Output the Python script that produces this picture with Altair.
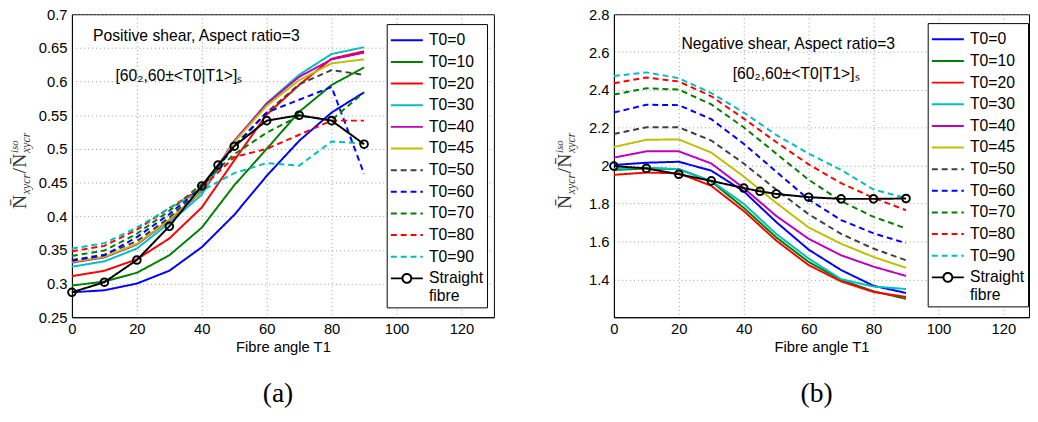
import altair as alt
import pandas as pd

# ---------------- data ----------------
t1 = [0, 10, 20, 30, 40, 50, 60, 70, 80, 90]
t1_straight = [0, 10, 20, 30, 40, 45, 50, 60, 70, 80, 90]

series_names = ["T0=0", "T0=10", "T0=20", "T0=30", "T0=40", "T0=45",
                "T0=50", "T0=60", "T0=70", "T0=80", "T0=90", "Straight fibre"]

# (a) Positive shear
pos_T0_0 = [0.287, 0.290, 0.300, 0.319, 0.354, 0.402, 0.460, 0.512, 0.554, 0.584]
pos_T0_10 = [0.297, 0.303, 0.316, 0.342, 0.383, 0.446, 0.500, 0.555, 0.595, 0.621]
pos_T0_20 = [0.311, 0.319, 0.336, 0.367, 0.413, 0.483, 0.551, 0.595, 0.634, 0.645]
pos_T0_30 = [0.325, 0.333, 0.352, 0.390, 0.432, 0.510, 0.568, 0.610, 0.641, 0.651]
pos_T0_40 = [0.331, 0.339, 0.358, 0.394, 0.437, 0.512, 0.567, 0.607, 0.633, 0.643]
pos_T0_45 = [0.332, 0.340, 0.359, 0.395, 0.438, 0.510, 0.564, 0.602, 0.627, 0.633]
pos_T0_50 = [0.335, 0.343, 0.363, 0.398, 0.442, 0.505, 0.554, 0.596, 0.617, 0.610]
pos_T0_60 = [0.334, 0.342, 0.369, 0.403, 0.444, 0.503, 0.554, 0.573, 0.592, 0.463]
pos_T0_70 = [0.341, 0.349, 0.374, 0.408, 0.448, 0.492, 0.524, 0.549, 0.543, 0.584]
pos_T0_80 = [0.348, 0.356, 0.380, 0.412, 0.442, 0.488, 0.500, 0.521, 0.542, 0.542]
pos_T0_90 = [0.352, 0.360, 0.383, 0.412, 0.438, 0.464, 0.479, 0.475, 0.511, 0.508]
pos_straight = [0.287, 0.302, 0.335, 0.385, 0.445, 0.476, 0.504, 0.542, 0.550, 0.542, 0.507]

# (b) Negative shear
neg_T0_0 = [2.004, 2.016, 2.021, 1.974, 1.865, 1.703, 1.557, 1.449, 1.366, 1.328]
neg_T0_10 = [1.977, 1.986, 1.982, 1.917, 1.778, 1.622, 1.492, 1.397, 1.337, 1.297]
neg_T0_20 = [1.952, 1.964, 1.960, 1.894, 1.761, 1.605, 1.475, 1.389, 1.333, 1.307]
neg_T0_30 = [1.983, 1.990, 1.982, 1.920, 1.799, 1.640, 1.510, 1.401, 1.362, 1.349]
neg_T0_40 = [2.043, 2.076, 2.076, 2.012, 1.882, 1.735, 1.614, 1.527, 1.467, 1.418]
neg_T0_45 = [2.099, 2.137, 2.139, 2.069, 1.943, 1.804, 1.674, 1.588, 1.518, 1.461]
neg_T0_50 = [2.168, 2.203, 2.203, 2.133, 2.012, 1.874, 1.744, 1.640, 1.562, 1.501]
neg_T0_60 = [2.281, 2.322, 2.320, 2.246, 2.116, 1.969, 1.822, 1.713, 1.643, 1.591]
neg_T0_70 = [2.376, 2.409, 2.402, 2.324, 2.203, 2.064, 1.926, 1.813, 1.730, 1.669]
neg_T0_80 = [2.436, 2.466, 2.445, 2.367, 2.249, 2.125, 2.007, 1.908, 1.830, 1.765]
neg_T0_90 = [2.474, 2.493, 2.462, 2.384, 2.281, 2.163, 2.064, 1.978, 1.874, 1.830]
neg_straight = [1.998, 1.986, 1.955, 1.920, 1.882, 1.865, 1.851, 1.834, 1.825, 1.825, 1.827]

x_ticks = [0, 20, 40, 60, 80, 100, 120]
pos_y_ticks = [0.25, 0.3, 0.35, 0.4, 0.45, 0.5, 0.55, 0.6, 0.65, 0.7]
neg_y_ticks = [1.4, 1.6, 1.8, 2.0, 2.2, 2.4, 2.6, 2.8]

pos_title = "Positive shear, Aspect ratio=3"
neg_title = "Negative shear, Aspect ratio=3"
layup_text = "[60\u2082,60\u00b1<T0|T1>]\u209b"
x_title = "Fibre angle T1"

# ---------------- styles ----------------
colors = ["#0000FF", "#008000", "#FF0000", "#00BFBF", "#BF00BF", "#BFBF00",
          "#404040", "#0000FF", "#008000", "#FF0000", "#00BFBF", "#000000"]
dashes = [[1, 0]] * 6 + [[6, 4]] * 5 + [[1, 0]]
LINE_SYM = "M-1.3,0H1.3"
CIRC_SYM = ("M-1.3,0H-0.36M0.36,0H1.3"
            "M0.36,0A0.36,0.36,0,1,1,-0.36,0A0.36,0.36,0,1,1,0.36,0")
shapes = [LINE_SYM] * 11 + [CIRC_SYM]
SANS = "Liberation Sans"
SERIF = "Liberation Serif"


def long_df(curves, straight):
    rows = []
    for name, vals in zip(series_names[:-1], curves):
        for x, v in zip(t1, vals):
            rows.append({"T1": x, "N": v, "series": name})
    for x, v in zip(t1_straight, straight):
        rows.append({"T1": x, "N": v, "series": "Straight fibre"})
    return pd.DataFrame(rows)


one = pd.DataFrame({"k": [0]})


def panel(df, xmax, width, ydom, yvals, title_txt, title_xy, layup_xy,
          label, legend_xy, tx):
    xenc = alt.X("T1:Q", scale=alt.Scale(domain=[0, xmax], nice=False, zero=False),
                 axis=alt.Axis(values=x_ticks, title=x_title, tickCount=20))
    yenc = alt.Y("N:Q", scale=alt.Scale(domain=ydom, nice=False, zero=False),
                 axis=alt.Axis(values=yvals, title="", format="~g", tickCount=20))
    leg = alt.Legend(title=None, orient="none", legendX=legend_xy[0], legendY=legend_xy[1],
                     symbolType=LINE_SYM, symbolStrokeWidth=2, symbolSize=625,
                     symbolOffset=4, labelOffset=9,
                     labelFont=SANS, labelFontSize=16, labelColor="black",
                     fillColor="white", strokeColor="black", padding=3, rowPadding=-1,
                     labelExpr="datum.label == 'Straight fibre' ? ['Straight', 'fibre'] : datum.label")
    color = alt.Color("series:N", scale=alt.Scale(domain=series_names, range=colors), legend=leg)
    dash = alt.StrokeDash("series:N", scale=alt.Scale(domain=series_names, range=dashes), legend=leg)
    lines = alt.Chart(df).mark_line(strokeWidth=2).encode(
        x=xenc, y=yenc, color=color, strokeDash=dash,
    )
    legend_shape = alt.Chart(df).transform_filter("datum.T1 < 0").mark_point(
        filled=False, strokeWidth=2, opacity=1
    ).encode(
        x=xenc, y=yenc, color=color, strokeDash=dash,
        shape=alt.Shape("series:N", scale=alt.Scale(domain=series_names, range=shapes), legend=leg),
    )
    pts = alt.Chart(df).transform_filter(alt.datum.series == "Straight fibre").mark_point(
        filled=False, size=60, strokeWidth=2, color="black", opacity=1
    ).encode(x=xenc, y=yenc)
    t_a = alt.Chart(one).mark_text(align="left", baseline="middle", font=SANS, fontSize=16,
                                   color="black").encode(
        x=alt.datum(title_xy[0]), y=alt.datum(title_xy[1]), text=alt.value(title_txt))
    t_b = alt.Chart(one).mark_text(align="left", baseline="middle", font=SANS, fontSize=16,
                                   color="black").encode(
        x=alt.datum(layup_xy[0]), y=alt.datum(layup_xy[1]), text=alt.value(layup_text))

    def piece(txt, x, y, size, italic):
        return alt.Chart(one).mark_text(
            angle=270, align="left", baseline="alphabetic", font=SERIF, fontSize=size,
            fontStyle="italic" if italic else "normal", color="#333"
        ).encode(x=alt.value(x), y=alt.value(y), text=alt.value(txt))

    ytitle = [
        piece("N\u0304", tx, 198, 20, False),
        piece("xycr", tx + 4, 183, 12, True),
        piece("/", tx, 162, 20, False),
        piece("N\u0304", tx, 156, 20, False),
        piece("xycr", tx + 4, 141, 12, True),
        piece("iso", tx - 8, 141, 11, True),
    ]
    return alt.layer(lines, legend_shape, pts, t_a, t_b, *ytitle).properties(
        width=width, height=308,
        title=alt.TitleParams(label, orient="bottom", font=SERIF, fontSize=28,
                              fontWeight="normal", color="black", frame="group",
                              dx=-5, offset=26),
    )


left = panel(long_df([pos_T0_0, pos_T0_10, pos_T0_20, pos_T0_30, pos_T0_40, pos_T0_45,
                      pos_T0_50, pos_T0_60, pos_T0_70, pos_T0_80, pos_T0_90], pos_straight),
             130, 429, [0.25, 0.7], pos_y_ticks, pos_title, (6.5, 0.668), (13.4, 0.608),
             "(a)", (320, 10), -47)
right = panel(long_df([neg_T0_0, neg_T0_10, neg_T0_20, neg_T0_30, neg_T0_40, neg_T0_45,
                       neg_T0_50, neg_T0_60, neg_T0_70, neg_T0_80, neg_T0_90], neg_straight),
              127.9, 422, [1.2, 2.8], neg_y_ticks, neg_title, (20.8, 2.644), (36.6, 2.483),
              "(b)", (319, 9), -44)

chart = alt.hconcat(left, right, spacing=59).resolve_scale(
    color="independent", strokeDash="independent", shape="independent"
).resolve_legend(
    color="independent", strokeDash="independent", shape="independent"
).properties(
    padding={"left": 0, "top": -5, "right": 0, "bottom": 0}
).configure_view(
    stroke="black", strokeWidth=1
).configure_axis(
    labelFont=SANS, labelFontSize=15, labelColor="black", labelFlush=False, labelPadding=5,
    labelOverlap=False,
    titleFont=SANS, titleFontSize=15, titleFontWeight="normal", titleColor="black", titlePadding=3,
    domainColor="black", domainWidth=1, ticks=False,
    gridColor="#999999", gridDash=[1, 3], gridWidth=1,
)

chart.save("out.html", embed_options={"renderer": "svg", "actions": False})
